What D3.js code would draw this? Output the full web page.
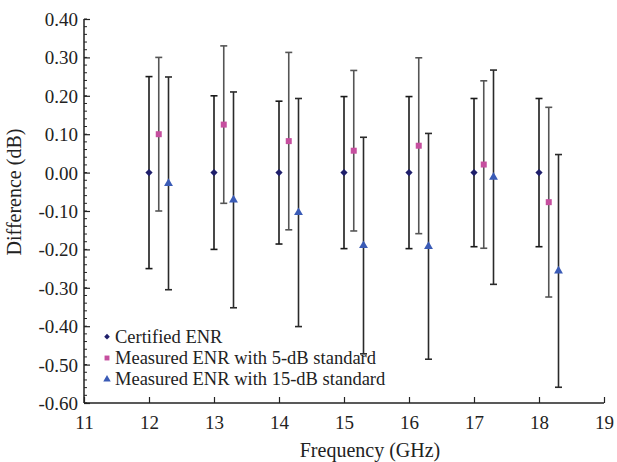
<!DOCTYPE html>
<html lang="en">
<head>
  <meta charset="UTF-8" />
  <title>ENR Difference</title>
  <script src="https://d3js.org/d3.v7.min.js"></script>
  <style>
    body { margin: 0; background: #fff; }
    svg text { font-family: "Liberation Serif", "Times New Roman", "DejaVu Serif", serif !important; fill: #222; }
  </style>
</head>
<body>
  <div id="chart"></div>
  <script>
    const freqs = [12, 13, 14, 15, 16, 17, 18];
    const certVal = [0, 0, 0, 0, 0, 0, 0];
    const certErr = [0.25, 0.20, 0.186, 0.198, 0.198, 0.193, 0.193];
    const fiveVal = [0.10, 0.125, 0.082, 0.057, 0.070, 0.021, -0.077];
    const fiveErr = [0.20, 0.205, 0.231, 0.209, 0.229, 0.218, 0.247];
    const fifteenVal = [-0.028, -0.071, -0.104, -0.190, -0.192, -0.012, -0.256];
    const fifteenErr = [0.277, 0.281, 0.297, 0.282, 0.294, 0.279, 0.303];
    const xTicks = [11, 12, 13, 14, 15, 16, 17, 18, 19];
    const yTicks = [-0.6, -0.5, -0.4, -0.3, -0.2, -0.1, 0, 0.1, 0.2, 0.3, 0.4];

    const margin = { top: 19, right: 13, bottom: 59, left: 84 },
          W = 617, H = 462,
          width = W - margin.left - margin.right,
          height = H - margin.top - margin.bottom;

    const svg = d3.select("#chart").append("svg")
      .attr("width", W).attr("height", H)
      .attr("font-family", "Liberation Serif")
      .append("g")
      .attr("transform", `translate(${margin.left},${margin.top})`);

    const x = d3.scaleLinear().domain([11, 19]).range([0, width]);
    const y = d3.scaleLinear().domain([-0.6, 0.4]).range([height, 0]);

    const series = [
      { name: "Certified ENR", vals: certVal, errs: certErr, off: 0, shape: d3.symbolSquare, rot: 45, color: "#1f1f6b", bar: "#1a1a1a", size: 26, lsize: 16 },
      { name: "Measured ENR with 5-dB standard", vals: fiveVal, errs: fiveErr, off: 0.15, shape: d3.symbolSquare, rot: 0, color: "#c64f9f", bar: "#555", size: 36, lsize: 24 },
      { name: "Measured ENR with 15-dB standard", vals: fifteenVal, errs: fifteenErr, off: 0.30, shape: d3.symbolTriangle, rot: 0, color: "#3a5bb6", bar: "#2a2a2a", size: 34, lsize: 24 }
    ];

    // minor y ticks
    const minor = d3.range(-0.6, 0.4001, 0.02);
    svg.append("g").selectAll("line").data(minor).join("line")
      .attr("x1", 0).attr("x2", 3)
      .attr("y1", d => y(d)).attr("y2", d => y(d))
      .attr("stroke", "#222").attr("stroke-width", 1);

    const fmt = d => d3.format(".2f")(d).replace("−", "-");
    const yAxis = svg.append("g")
      .call(d3.axisRight(y).tickValues(yTicks).tickSize(6).tickFormat(fmt))
      .attr("font-family", null).attr("font-size", null);
    yAxis.select(".domain").attr("stroke", "#222").attr("stroke-width", 1.5).attr("d", `M0,0V${height}`);
    yAxis.selectAll(".tick line").attr("stroke", "#222").attr("stroke-width", 1.2);
    yAxis.selectAll(".tick text").attr("x", -6).attr("text-anchor", "end")
      .style("font-size", "19px").attr("dy", "0.34em");

    const xAxis = svg.append("g")
      .attr("transform", `translate(0,${height})`)
      .call(d3.axisTop(x).tickValues(xTicks).tickSize(6).tickFormat(d3.format("d")))
      .attr("font-family", null).attr("font-size", null);
    xAxis.select(".domain").attr("stroke", "#222").attr("stroke-width", 1.5).attr("d", `M0,0H${width}`);
    xAxis.selectAll(".tick line").attr("stroke", "#222").attr("stroke-width", 1.2);
    xAxis.selectAll(".tick text").attr("y", 26).attr("dy", 0).style("font-size", "19px");

    svg.append("text")
      .attr("x", 286).attr("y", height + 54)
      .attr("text-anchor", "middle").style("font-size", "20px")
      .text("Frequency (GHz)");

    svg.append("text")
      .attr("transform", `translate(${-63},${173}) rotate(-90)`)
      .attr("text-anchor", "middle").style("font-size", "20px")
      .text("Difference (dB)");

    // error bars and markers
    series.forEach(s => {
      const g = svg.append("g");
      const pts = freqs.map((f, i) => ({ f: f + s.off, v: s.vals[i], e: s.errs[i] }));
      g.selectAll(".bar").data(pts).join("line")
        .attr("x1", d => x(d.f)).attr("x2", d => x(d.f))
        .attr("y1", d => y(d.v + d.e)).attr("y2", d => y(d.v - d.e))
        .attr("stroke", s.bar).attr("stroke-width", 1.6);
      ["top", "bot"].forEach(k => {
        g.selectAll(".cap" + k).data(pts).join("line")
          .attr("x1", d => x(d.f) - 3.5).attr("x2", d => x(d.f) + 3.5)
          .attr("y1", d => y(k === "top" ? d.v + d.e : d.v - d.e))
          .attr("y2", d => y(k === "top" ? d.v + d.e : d.v - d.e))
          .attr("stroke", s.bar).attr("stroke-width", 1.6);
      });
      g.selectAll("path").data(pts).join("path")
        .attr("d", d3.symbol().type(s.shape).size(s.size))
        .attr("transform", d => `translate(${x(d.f)},${y(d.v)}) rotate(${s.rot})`)
        .attr("fill", s.color);
    });

    // legend
    const legend = svg.append("g").attr("transform", `translate(23,${336.7 - margin.top})`);
    series.forEach((s, i) => {
      const row = legend.append("g").attr("transform", `translate(0,${i * 21.3})`);
      row.append("path")
        .attr("d", d3.symbol().type(s.shape).size(s.lsize))
        .attr("transform", `rotate(${s.rot})`)
        .attr("fill", s.color);
      row.append("text").attr("x", 8).attr("dy", "0.33em")
        .style("font-size", "18.5px").text(s.name);
    });
  </script>
</body>
</html>
